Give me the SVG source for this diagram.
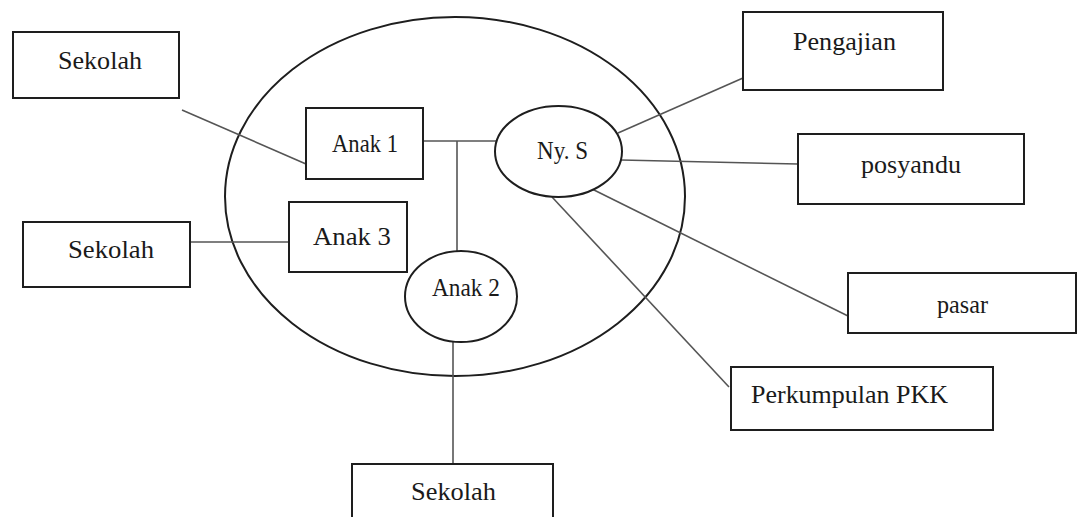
<svg xmlns="http://www.w3.org/2000/svg" width="1087" height="517" viewBox="0 0 1087 517">
  <style>
    .box { fill: #ffffff; stroke: #1e1e1e; stroke-width: 2; }
    .ell { fill: #ffffff; stroke: #1e1e1e; stroke-width: 2; }
    .big { fill: none; stroke: #1e1e1e; stroke-width: 2; }
    .lbl { font-family: "Liberation Serif", "Times New Roman", serif; font-size: 26px; fill: #1a1a1a; text-anchor: middle; }
    .conn line { stroke: #555555; stroke-width: 1.6; }
  </style>
  <rect width="1087" height="517" fill="#ffffff"/>
  <g id="family-circle">
    <ellipse class="big" cx="455" cy="196.5" rx="230" ry="179.5"/>
  </g>
  <g class="conn" id="connectors">
    <line x1="182" y1="110" x2="306" y2="164"/>
    <line x1="423" y1="141" x2="507" y2="141"/>
    <line x1="457" y1="141" x2="457" y2="251"/>
    <line x1="190" y1="242" x2="289" y2="242"/>
    <line x1="453" y1="342" x2="453" y2="464"/>
    <line x1="618" y1="133" x2="743" y2="78"/>
    <line x1="621" y1="160" x2="798" y2="164"/>
    <line x1="592" y1="189" x2="848" y2="316"/>
    <line x1="552" y1="197" x2="729" y2="387"/>
  </g>
  <g id="sekolah-1">
    <rect class="box" x="13" y="32" width="166" height="66"/>
    <text class="lbl" x="100" y="69" textLength="84" lengthAdjust="spacingAndGlyphs">Sekolah</text>
  </g>
  <g id="anak-1">
    <rect class="box" x="306" y="108" width="117" height="71"/>
    <text class="lbl" x="365" y="152" textLength="66" lengthAdjust="spacingAndGlyphs">Anak 1</text>
  </g>
  <g id="ny-s">
    <ellipse class="ell" cx="558.5" cy="151.5" rx="63.5" ry="45.5"/>
    <text class="lbl" x="562.5" y="159" textLength="51" lengthAdjust="spacingAndGlyphs">Ny. S</text>
  </g>
  <g id="anak-3">
    <rect class="box" x="289" y="202" width="118" height="70"/>
    <text class="lbl" x="352" y="245" textLength="78" lengthAdjust="spacingAndGlyphs">Anak 3</text>
  </g>
  <g id="sekolah-2">
    <rect class="box" x="23" y="222" width="167" height="65"/>
    <text class="lbl" x="111" y="258" textLength="86" lengthAdjust="spacingAndGlyphs">Sekolah</text>
  </g>
  <g id="anak-2">
    <ellipse class="ell" cx="461" cy="296.5" rx="56" ry="45.5"/>
    <text class="lbl" x="466" y="296" textLength="68" lengthAdjust="spacingAndGlyphs">Anak 2</text>
  </g>
  <g id="sekolah-3">
    <rect class="box" x="352" y="464" width="201" height="62"/>
    <text class="lbl" x="453.5" y="500" textLength="85" lengthAdjust="spacingAndGlyphs">Sekolah</text>
  </g>
  <g id="pengajian">
    <rect class="box" x="743" y="12" width="200" height="78"/>
    <text class="lbl" x="844.5" y="50" textLength="103" lengthAdjust="spacingAndGlyphs">Pengajian</text>
  </g>
  <g id="posyandu">
    <rect class="box" x="798" y="134" width="226" height="70"/>
    <text class="lbl" x="911" y="173" textLength="100" lengthAdjust="spacingAndGlyphs">posyandu</text>
  </g>
  <g id="pasar">
    <rect class="box" x="848" y="273" width="228" height="60"/>
    <text class="lbl" x="962.5" y="313" textLength="51" lengthAdjust="spacingAndGlyphs">pasar</text>
  </g>
  <g id="perkumpulan-pkk">
    <rect class="box" x="731" y="367" width="262" height="63"/>
    <text class="lbl" x="849.5" y="403" textLength="197" lengthAdjust="spacingAndGlyphs">Perkumpulan PKK</text>
  </g>
</svg>
